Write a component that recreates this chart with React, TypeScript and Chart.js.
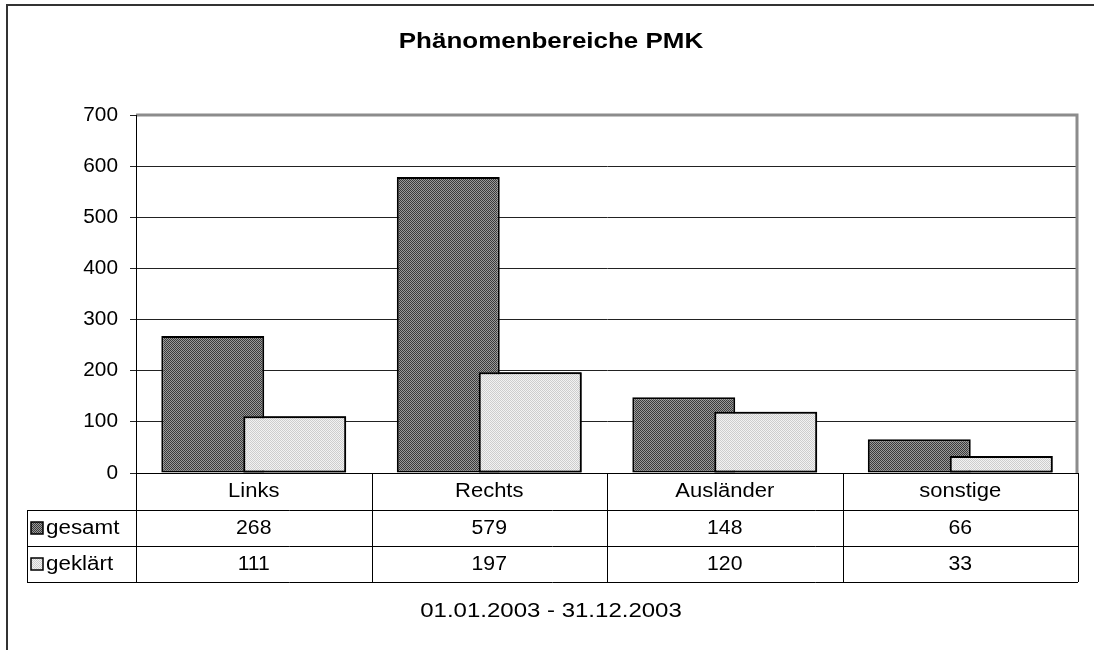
import React, { useEffect, useRef } from "react";
import { Chart, registerables } from "chart.js";

Chart.register(...registerables);

const title = "Phänomenbereiche PMK";
const footer = "01.01.2003 - 31.12.2003";
const categories = ["Links", "Rechts", "Ausländer", "sonstige"];
const seriesNames = ["gesamt", "geklärt"];
const gesamt = [268, 579, 148, 66];
const geklaert = [111, 197, 120, 33];
const yMin = 0;
const yMax = 700;
const yStep = 100;

const FONT = '"Liberation Sans", Arial, sans-serif';

function makePattern(a: string, b: string): CanvasPattern | string {
  const c = document.createElement("canvas");
  c.width = 2;
  c.height = 2;
  const g = c.getContext("2d");
  if (!g) return a;
  g.fillStyle = a;
  g.fillRect(0, 0, 2, 2);
  g.fillStyle = b;
  g.fillRect(0, 0, 1, 1);
  g.fillRect(1, 1, 1, 1);
  const p = g.createPattern(c, "repeat");
  return p || a;
}

function drawText(
  ctx: CanvasRenderingContext2D,
  text: string,
  x: number,
  y: number,
  font: string,
  align: CanvasTextAlign,
  sx: number
) {
  ctx.save();
  ctx.font = font;
  ctx.fillStyle = "#000";
  ctx.textBaseline = "middle";
  ctx.textAlign = align;
  ctx.translate(x, y);
  ctx.scale(sx, 1);
  ctx.fillText(text, 0, 0);
  ctx.restore();
}

export default function App() {
  const ref = useRef<HTMLCanvasElement | null>(null);

  useEffect(() => {
    const canvas = ref.current;
    if (!canvas) return;
    const darkFill = makePattern("#9a9a9a", "#3a3a3a");
    const lightFill = makePattern("#f2f2f2", "#cdcdcd");
    const fills = [darkFill, lightFill];

    const overlayPlugin = {
      id: "overlay",
      afterDatasetsDraw(chart: any) {
        const ctx = chart.ctx;
        const meta = chart.getDatasetMeta(1);
        const a = chart.chartArea;
        ctx.save();
        ctx.beginPath();
        ctx.rect(a.left, a.top - 2, a.right - a.left, a.bottom - a.top + 2);
        ctx.clip();
        meta.controller.draw();
        ctx.restore();
      },
      afterDraw(chart: any) {
        const ctx = chart.ctx as CanvasRenderingContext2D;
        const a = chart.chartArea;
        const xs = chart.scales.x;
        const ys = chart.scales.y;
        const labelFont = `20px ${FONT}`;
        const midX = (a.left + a.right) / 2 - 56;

        // outer frame (top & left edges visible)
        ctx.save();
        ctx.strokeStyle = "#333";
        ctx.lineWidth = 2;
        ctx.beginPath();
        ctx.moveTo(6, 5);
        ctx.lineTo(1094, 5);
        ctx.moveTo(7, 5);
        ctx.lineTo(7, 650);
        ctx.stroke();
        ctx.restore();

        // plot border top/right (gray)
        ctx.save();
        ctx.strokeStyle = "#8c8c8c";
        ctx.lineWidth = 3;
        ctx.beginPath();
        ctx.moveTo(a.left, a.top);
        ctx.lineTo(a.right - 1, a.top);
        ctx.lineTo(a.right - 1, a.bottom);
        ctx.stroke();
        ctx.restore();

        // title
        drawText(ctx, title, midX, 42, `bold 22px ${FONT}`, "center", 1.18);

        // y labels
        ys.ticks.forEach((t: any) => {
          const y = ys.getPixelForValue(t.value);
          drawText(ctx, String(t.value), a.left - 18, y, labelFont, "right", 1.04);
        });

        // data table
        const n = categories.length;
        const rowTop = a.bottom;
        const rowH = [37, 36, 36];
        const r1 = rowTop + rowH[0];
        const r2 = r1 + rowH[1];
        const r3 = r2 + rowH[2];
        const tableLeft = 27;
        const bounds: number[] = [];
        for (let i = 0; i < n; i++) {
          const c = xs.getPixelForValue(i);
          const half = (i < n - 1 ? xs.getPixelForValue(i + 1) - c : c - xs.getPixelForValue(i - 1)) / 2;
          bounds.push(c - half);
          if (i === n - 1) bounds.push(c + half);
        }

        ctx.save();
        ctx.strokeStyle = "#000";
        ctx.lineWidth = 1;
        ctx.beginPath();
        ctx.moveTo(a.left, a.bottom + 0.5);
        ctx.lineTo(a.right, a.bottom + 0.5);
        [r1, r2, r3].forEach((y) => {
          ctx.moveTo(tableLeft, Math.round(y) + 0.5);
          ctx.lineTo(a.right, Math.round(y) + 0.5);
        });
        bounds.forEach((bx, i) => {
          const x = Math.round(bx) + 0.5;
          ctx.moveTo(x, i === 0 ? a.top : a.bottom);
          ctx.lineTo(x, r3);
        });
        ctx.moveTo(tableLeft + 0.5, r1);
        ctx.lineTo(tableLeft + 0.5, r3);
        ctx.stroke();
        ctx.restore();

        const series = [gesamt, geklaert];
        categories.forEach((cat, i) => {
          const cx = xs.getPixelForValue(i);
          drawText(ctx, cat, cx, rowTop + 18.5, labelFont, "center", 1.1);
          series.forEach((s, k) => {
            const ry = k === 0 ? r1 + 18 : r2 + 18;
            drawText(ctx, String(s[i]), cx, ry, labelFont, "center", 1.06);
          });
        });

        // row headers with legend keys
        seriesNames.forEach((name, k) => {
          const ry = k === 0 ? r1 + 18 : r2 + 18;
          ctx.save();
          ctx.fillStyle = fills[k] as any;
          ctx.fillRect(31, ry - 6, 12, 12);
          ctx.strokeStyle = "#000";
          ctx.lineWidth = 1.5;
          ctx.strokeRect(31, ry - 6, 12, 12);
          ctx.restore();
          drawText(ctx, name, 46, ry, labelFont, "left", 1.12);
        });

        // footer
        drawText(ctx, footer, midX, 611, labelFont, "center", 1.2);
      },
    };

    const chart = new Chart(canvas, {
      type: "bar",
      data: {
        labels: categories,
        datasets: [
          {
            label: seriesNames[0],
            data: gesamt,
            backgroundColor: darkFill as any,
            borderColor: "#000",
            borderWidth: 2,
            borderSkipped: false,
          },
          {
            label: seriesNames[1],
            data: geklaert,
            backgroundColor: lightFill as any,
            borderColor: "#000",
            borderWidth: 2,
            borderSkipped: false,
          },
        ],
      },
      options: {
        responsive: false,
        animation: false,
        devicePixelRatio: 1,
        categoryPercentage: 0.696,
        barPercentage: 1.256,
        layout: { padding: { left: 0, top: 115, right: 16, bottom: 177 } },
        plugins: {
          legend: { display: false },
          title: { display: false },
          tooltip: { enabled: false },
        },
        scales: {
          x: { display: false },
          y: {
            min: yMin,
            max: yMax,
            ticks: { stepSize: yStep, display: false },
            grid: { color: "#222", lineWidth: 1, drawTicks: true, tickLength: 6 },
            border: { display: true, color: "#000", width: 1 },
            afterFit: (s: any) => {
              s.width = 136;
            },
          },
        },
      } as any,
      plugins: [overlayPlugin],
    });
    return () => chart.destroy();
  }, []);

  return (
    <div style={{ position: "absolute", left: 0, top: 0, width: 1094, height: 650, background: "#fff" }}>
      <canvas ref={ref} width={1094} height={650} style={{ display: "block" }} />
    </div>
  );
}
